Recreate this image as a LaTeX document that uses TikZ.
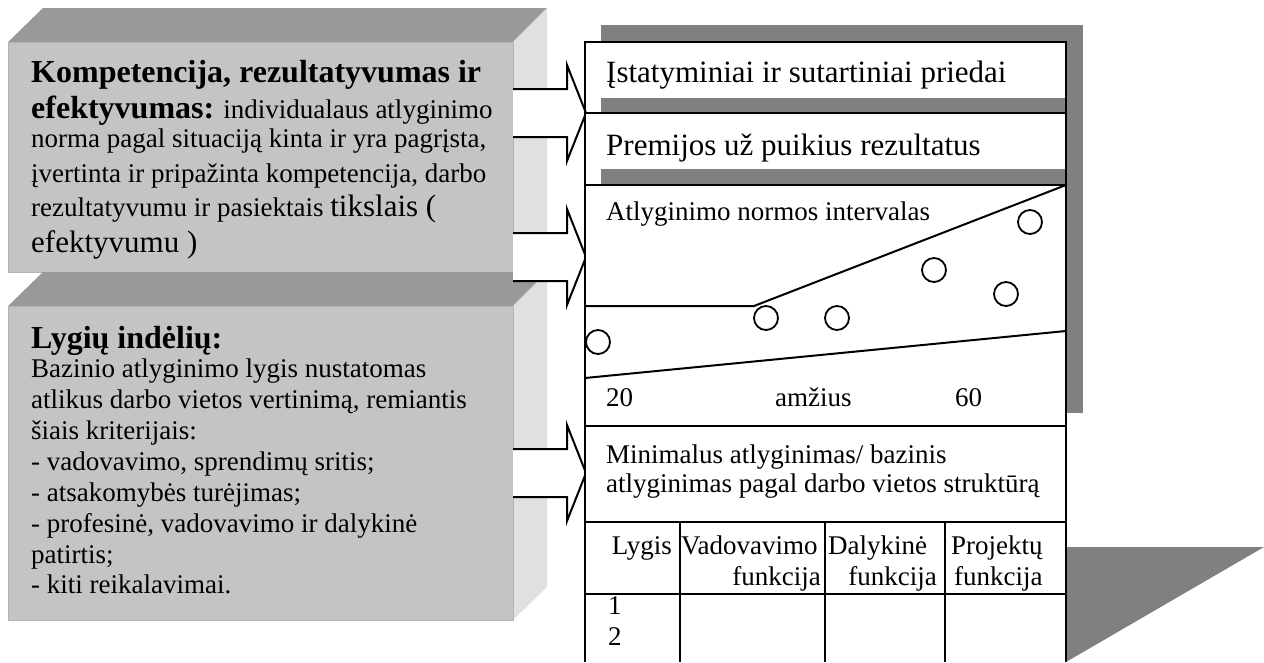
\documentclass[tikz,border=0pt]{standalone}
\usepackage{fontspec}
\setmainfont{Liberation Serif}
\definecolor{bevelgray}{RGB}{153,153,153}
\definecolor{facegray}{RGB}{196,196,196}
\definecolor{sidegray}{RGB}{224,224,224}
\definecolor{edgegray}{RGB}{180,180,180}
\definecolor{shadowgray}{RGB}{128,128,128}
\newcommand{\szN}{\fontsize{27}{31}\selectfont}
\newcommand{\szB}{\fontsize{32}{36}\selectfont\bfseries}
\newcommand{\szL}{\fontsize{31}{35}\selectfont}
\begin{document}
\begin{tikzpicture}[x=1pt,y=-1pt,
  txt/.style={anchor=base west,inner sep=0pt,font=\szN},
  txtr/.style={anchor=base east,inner sep=0pt,font=\szN},
  big/.style={anchor=base west,inner sep=0pt,font=\szL},
  hd/.style={anchor=base west,inner sep=0pt,font=\szB},
  blk/.style={line width=2pt,line join=miter},
  dot/.style={circle,draw,line width=1.8pt,minimum size=24pt,inner sep=0pt,fill=white},
  fatarrow/.pic={
    \fill[white] (0,-24) -- (54,-24) -- (54,-48) -- (73,0) -- (54,48) -- (54,24) -- (0,24) -- cycle;
    \draw[blk] (0,-24) -- (54,-24) -- (54,-48) -- (73,0) -- (54,48) -- (54,24) -- (0,24);
  }]
\useasboundingbox (0,0) rectangle (1264,662);
% ---- left box A
\fill[bevelgray] (8,42) -- (43,8) -- (547,8) -- (513,42) -- cycle;
\fill[sidegray] (513,42) -- (547,8) -- (547,272) -- (513,306) -- cycle;
\filldraw[fill=facegray,draw=edgegray,line width=1pt] (8,42) rectangle (513,272);
% ---- left box B
\fill[bevelgray] (8,306) -- (43,272) -- (547,272) -- (513,306) -- cycle;
\fill[sidegray] (513,306) -- (547,272) -- (547,587) -- (513,620) -- cycle;
\filldraw[fill=facegray,draw=edgegray,line width=1pt] (8,306) rectangle (513,620);
% ---- texts of box A
\node[hd] (a1) at (31,82) {Kompetencija, rezultatyvumas ir};
\node[hd] (a2) at (31,118) {efektyvumas:\szN\mdseries{} individualaus atlyginimo};
\node[txt] (a3) at (31,147) {norma pagal situaciją kinta ir yra pagrįsta,};
\node[txt] (a4) at (31,182) {įvertinta ir pripažinta kompetencija, darbo};
\node[txt] (a5) at (31,216) {rezultatyvumu ir pasiektais {\szL tikslais (}};
\node[big] (a6) at (31,252) {efektyvumu )};
% ---- texts of box B
\node[hd] (b1) at (31,348) {Lygių indėlių:};
\node[txt] (b2) at (31,377) {Bazinio atlyginimo lygis nustatomas};
\node[txt] (b3) at (31,408) {atlikus darbo vietos vertinimą, remiantis};
\node[txt] (b4) at (31,439) {šiais kriterijais:};
\node[txt] (b5) at (31,470) {- vadovavimo, sprendimų sritis;};
\node[txt] (b6) at (31,501) {- atsakomybės turėjimas;};
\node[txt] (b7) at (31,532) {- profesinė, vadovavimo ir dalykinė};
\node[txt] (b8) at (31,563) {patirtis;};
\node[txt] (b9) at (31,593) {- kiti reikalavimai.};
% ---- arrows
\pic at (513,113) {fatarrow};
\pic at (513,257) {fatarrow};
\pic at (513,473) {fatarrow};
% ---- right panel
\fill[shadowgray] (601,25) rectangle (1083,413);
\fill[white] (585,42) rectangle (1066,98);
\fill[white] (585,113) rectangle (1066,169);
\fill[white] (585,185) rectangle (1066,662);
\fill[shadowgray] (1066,547) -- (1264,547) -- (1066,662) -- cycle;
\coordinate (tl) at (585,42);
\coordinate (tr) at (1066,42);
\coordinate (bl) at (585,662);
\coordinate (br) at (1066,662);
\draw[blk] (bl) -- (tl) -- (tr) -- (br);
\draw[blk] (585,113) -- (1066,113);
\draw[blk] (585,185) -- (1066,185);
\draw[blk] (585,426) -- (1066,426);
\draw[blk] (585,522) -- (1066,522);
\draw[blk] (585,594) -- (1066,594);
\draw[blk] (680,522) -- (680,662);
\draw[blk] (825,522) -- (825,662);
\draw[blk] (945,522) -- (945,662);
% chart
\draw[blk] (585,306) -- (754,306) -- (1066,185);
\draw[blk] (585,378) -- (1066,331);
\node[dot] (c1) at (598,342) {};
\node[dot] (c2) at (766,318) {};
\node[dot] (c3) at (837,318) {};
\node[dot] (c4) at (934,270) {};
\node[dot] (c5) at (1006,294) {};
\node[dot] (c6) at (1030,222) {};
% texts
\node[big] (r1) at (606,82) {Įstatyminiai ir sutartiniai priedai};
\node[big] (r2) at (606,155) {Premijos už puikius rezultatus};
\node[txt] (r3) at (606,220) {Atlyginimo normos intervalas};
\node[txt] (x20) at (606,406) {20};
\node[txt] (xam) at (775,406) {amžius};
\node[txt] (x60) at (955,406) {60};
\node[txt] (m1) at (606,463) {Minimalus atlyginimas/ bazinis};
\node[txt] (m2) at (606,492) {atlyginimas pagal darbo vietos struktūrą};
\node[txtr] (h1) at (672,554) {Lygis};
\node[txt] (h2) at (681,554) {Vadovavimo};
\node[txtr] (h3) at (821,585) {funkcija};
\node[txt] (h4) at (828,554) {Dalykinė};
\node[txtr] (h5) at (937,585) {funkcija};
\node[txt] (h6) at (951,554) {Projektų};
\node[txt] (h7) at (954,585) {funkcija};
\node[txt] (n1) at (608,614) {1};
\node[txt] (n2) at (608,645) {2};
\end{tikzpicture}
\end{document}
